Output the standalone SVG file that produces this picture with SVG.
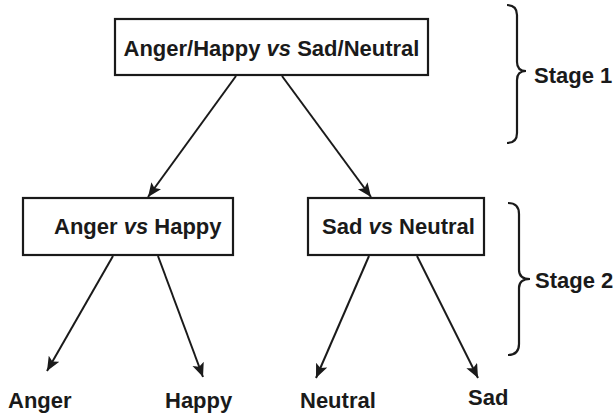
<svg xmlns="http://www.w3.org/2000/svg" width="614" height="415" viewBox="0 0 614 415">
<style>
.box{fill:#fff;stroke:#1a1a1a;stroke-width:2.2}
.t{font-family:"Liberation Sans",Arial,sans-serif;font-weight:bold;font-size:22px;fill:#1a1a1a}
.i{font-style:italic}
.edge{stroke:#1a1a1a;stroke-width:2;fill:none;marker-end:url(#ah)}
.brace{stroke:#1a1a1a;stroke-width:2.2;fill:none}
</style>
<defs>
<marker id="ah" markerUnits="userSpaceOnUse" markerWidth="16" markerHeight="14" refX="14" refY="6" orient="auto">
<path d="M0,0 L14,6 L0,12 L3,6 Z" fill="#1a1a1a"/>
</marker>
</defs>
<g id="root">
<rect class="box" x="115" y="19" width="313" height="56"/>
<text class="t" x="271.5" y="56" text-anchor="middle">Anger/Happy <tspan class="i">vs</tspan> Sad/Neutral</text>
</g>
<g id="anger-happy">
<rect class="box" x="23" y="198" width="210" height="57"/>
<text class="t" x="54" y="234">Anger <tspan class="i">vs</tspan> Happy</text>
</g>
<g id="sad-neutral">
<rect class="box" x="308" y="198" width="176" height="57"/>
<text class="t" x="322" y="234">Sad <tspan class="i">vs</tspan> Neutral</text>
</g>
<g id="leaf-anger"><text class="t" x="8" y="408">Anger</text></g>
<g id="leaf-happy"><text class="t" x="165" y="408">Happy</text></g>
<g id="leaf-neutral"><text class="t" x="300" y="408">Neutral</text></g>
<g id="leaf-sad"><text class="t" x="468" y="405">Sad</text></g>
<g id="stage1">
<path class="brace" d="M507,5 Q517,5 517,15 L517,62 Q517,71 526,71 Q517,71 517,80 L517,133 Q517,143 507,143"/>
<text class="t" x="534" y="83">Stage 1</text>
</g>
<g id="stage2">
<path class="brace" d="M508,203 Q519,203 519,214 L519,270 Q519,279 530,279 Q519,279 519,288 L519,344 Q519,355 508,355"/>
<text class="t" x="535" y="288">Stage 2</text>
</g>
<g id="connectors">
<line class="edge" x1="236" y1="76" x2="148" y2="197"/>
<line class="edge" x1="282" y1="76" x2="371" y2="197"/>
<line class="edge" x1="113" y1="256" x2="47" y2="371"/>
<line class="edge" x1="158" y1="256" x2="203" y2="377"/>
<line class="edge" x1="369" y1="256" x2="316" y2="378"/>
<line class="edge" x1="417" y1="256" x2="478" y2="378"/>
</g>
</svg>
